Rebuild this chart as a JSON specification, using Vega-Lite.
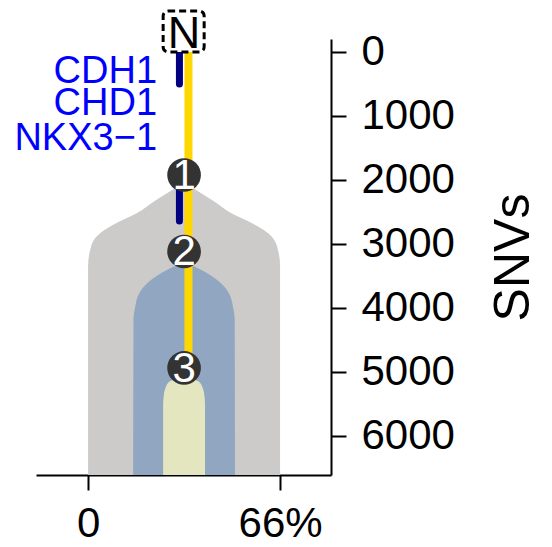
{
  "$schema": "https://vega.github.io/schema/vega-lite/v6.json",
  "width": 295,
  "height": 436,
  "autosize": "none",
  "padding": {"left": 36, "top": 39, "right": 221, "bottom": 72},
  "config": {
    "view": {"stroke": null},
    "font": "Liberation Sans",
    "axis": {
      "domainColor": "black",
      "domainWidth": 2,
      "tickColor": "black",
      "tickWidth": 2,
      "tickSize": 15,
      "labelColor": "black",
      "labelFont": "Liberation Sans",
      "labelFontSize": 42,
      "titleFont": "Liberation Sans",
      "titleColor": "black",
      "grid": false
    }
  },
  "encoding": {
    "x": {
      "field": "pct",
      "type": "quantitative",
      "scale": {"domain": [-17.9, 83.5], "nice": false, "zero": false},
      "axis": {
        "orient": "bottom",
        "values": [0, 66],
        "labelExpr": "datum.value == 0 ? '0' : datum.value + '%'",
        "title": null,
        "labelPadding": 13
      }
    },
    "y": {
      "field": "snv",
      "type": "quantitative",
      "scale": {"domain": [-203, 6610], "reverse": true, "nice": false, "zero": false},
      "axis": {
        "orient": "right",
        "values": [0, 1000, 2000, 3000, 4000, 5000, 6000],
        "format": "d",
        "title": "SNVs",
        "titleFontSize": 50,
        "titleFontWeight": "normal",
        "titleAngle": 270,
        "titleBaseline": "top",
        "titlePadding": 34,
        "labelPadding": 15,
        "labelAlign": "left",
        "labelBaseline": "middle"
      }
    }
  },
  "layer": [
    {
      "data": {"values": [
        {"snv": 2047, "pct": 33, "pct2": 33},
        {"snv": 2145, "pct": 29.3, "pct2": 36.7},
        {"snv": 2313, "pct": 23.4, "pct2": 42.6},
        {"snv": 2520, "pct": 16.7, "pct2": 49.3},
        {"snv": 2677, "pct": 9.6, "pct2": 56.4},
        {"snv": 2833, "pct": 4.1, "pct2": 61.9},
        {"snv": 3042, "pct": 1.0, "pct2": 65.0},
        {"snv": 3355, "pct": 0, "pct2": 66},
        {"snv": 6610, "pct": 0, "pct2": 66}
      ]},
      "mark": {"type": "area", "orient": "horizontal", "interpolate": "monotone", "color": "#CCCBCA"},
      "encoding": {"x2": {"field": "pct2"}}
    },
    {
      "data": {"values": [
        {"snv": 3281, "pct": 33, "pct2": 33},
        {"snv": 3380, "pct": 28.2, "pct2": 37.8},
        {"snv": 3614, "pct": 20.3, "pct2": 45.7},
        {"snv": 3797, "pct": 17.3, "pct2": 48.7},
        {"snv": 3980, "pct": 16.2, "pct2": 49.8},
        {"snv": 4188, "pct": 15.6, "pct2": 50.4},
        {"snv": 6610, "pct": 15.5, "pct2": 50.5}
      ]},
      "mark": {"type": "area", "orient": "horizontal", "interpolate": "monotone", "color": "#91A7C1"},
      "encoding": {"x2": {"field": "pct2"}}
    },
    {
      "data": {"values": [
        {"snv": 5117, "pct": 29.6, "pct2": 36.4},
        {"snv": 5156, "pct": 27.8, "pct2": 38.2},
        {"snv": 5250, "pct": 26.6, "pct2": 39.4},
        {"snv": 5375, "pct": 26.0, "pct2": 40.0},
        {"snv": 5516, "pct": 25.8, "pct2": 40.2},
        {"snv": 6610, "pct": 25.8, "pct2": 40.2}
      ]},
      "mark": {"type": "area", "orient": "horizontal", "interpolate": "monotone", "color": "#E3E6BE"},
      "encoding": {"x2": {"field": "pct2"}}
    },
    {
      "data": {"values": [
        {"pct": 34.5, "snv": 0, "snv2": 4900}
      ]},
      "mark": {"type": "rule", "color": "#FFD700", "strokeWidth": 8},
      "encoding": {"y2": {"field": "snv2"}}
    },
    {
      "data": {"values": [
        {"pct": 31.4, "snv": 0, "snv2": 500},
        {"pct": 31.4, "snv": 1900, "snv2": 2640}
      ]},
      "mark": {"type": "rule", "color": "#000080", "strokeWidth": 7, "strokeCap": "round"},
      "encoding": {"y2": {"field": "snv2"}}
    },
    {
      "data": {"values": [
        {"pct": 33, "snv": 1922, "node": "1"},
        {"pct": 33, "snv": 3117, "node": "2"},
        {"pct": 33, "snv": 4937, "node": "3"}
      ]},
      "mark": {"type": "point", "shape": "circle", "filled": true, "size": 1134, "color": "#333333", "opacity": 1},
      "encoding": {}
    },
    {
      "data": {"values": [
        {"pct": 33, "snv": 1922, "node": "1"},
        {"pct": 33, "snv": 3117, "node": "2"},
        {"pct": 33, "snv": 4937, "node": "3"}
      ]},
      "mark": {"type": "text", "color": "white", "fontSize": 42, "align": "center", "baseline": "middle", "dy": 1},
      "encoding": {"text": {"field": "node"}}
    },
    {
      "data": {"values": [
        {"pct": 25.8, "pct2": 39.9, "snv": -640, "snv2": 0}
      ]},
      "mark": {"type": "rect", "fill": "white", "stroke": "black", "strokeWidth": 3, "strokeDash": [7, 4], "cornerRadius": 5},
      "encoding": {"x2": {"field": "pct2"}, "y2": {"field": "snv2"}}
    },
    {
      "data": {"values": [
        {"pct": 33, "snv": -312, "label": "N"}
      ]},
      "mark": {"type": "text", "color": "black", "fontSize": 45, "align": "center", "baseline": "middle", "dy": 2},
      "encoding": {"text": {"field": "label"}}
    },
    {
      "data": {"values": [
        {"pct": 23.7, "snv": 297, "gene": "CDH1"},
        {"pct": 23.7, "snv": 797, "gene": "CHD1"},
        {"pct": 23.7, "snv": 1344, "gene": "NKX3−1"}
      ]},
      "mark": {"type": "text", "color": "#0000FF", "fontSize": 38, "align": "right", "baseline": "middle", "dy": 1},
      "encoding": {"text": {"field": "gene"}}
    }
  ]
}
